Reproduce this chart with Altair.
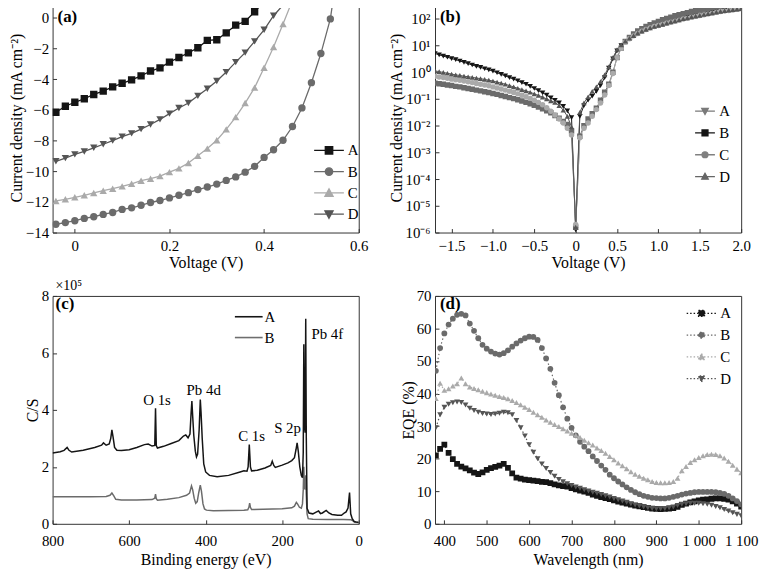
import altair as alt
import numpy as np
import pandas as pd

FONT = "Liberation Serif"
SERIES = ["A", "B", "C", "D"]
PW = 309
PH_TOP, PH_BOT = 232, 230

# ---------------- (a) J-V curves under illumination ----------------
a_volt = [-0.04, -0.02, 0.00, 0.02, 0.04, 0.06, 0.08, 0.10, 0.12, 0.14,
          0.16, 0.18, 0.20, 0.22, 0.24, 0.26, 0.28, 0.30, 0.32, 0.34,
          0.36, 0.38, 0.40, 0.42, 0.44, 0.46, 0.48, 0.50, 0.52, 0.54]
a_J_A = [-6.15, -5.76, -5.50, -5.27, -4.99, -4.77, -4.49, -4.26, -4.04, -3.78,
         -3.46, -3.25, -2.88, -2.58, -2.28, -1.94, -1.46, -1.42, -0.97, -0.47,
         -0.22, 0.41]
a_J_B = [-13.46, -13.35, -13.23, -13.08, -12.97, -12.82, -12.69, -12.49, -12.39, -12.22,
         -12.04, -11.91, -11.74, -11.57, -11.40, -11.20, -11.03, -10.84, -10.60, -10.37,
         -10.06, -9.68, -9.10, -8.60, -7.98, -7.08, -5.87, -4.22, -2.32, -0.06]
a_J_C = [-11.94, -11.83, -11.70, -11.57, -11.42, -11.27, -11.14, -10.99, -10.82, -10.62,
         -10.49, -10.32, -10.06, -9.81, -9.46, -8.99, -8.52, -7.98, -7.27, -6.47,
         -5.55, -4.54, -3.25, -1.89, -0.39]
a_J_D = [-9.35, -9.14, -8.90, -8.71, -8.47, -8.24, -8.00, -7.74, -7.53, -7.25,
         -6.95, -6.62, -6.24, -5.87, -5.55, -5.08, -4.62, -4.11, -3.53, -2.88,
         -2.26, -1.53, -0.77, 0.15, 0.84]
a_exit_volt = [0.398, 0.545, 0.458, 0.445]   # where each curve leaves the top edge
a_exit_J = [1.0, 1.0, 1.0, 1.0]
a_colors = ["#151515", "#6b6b6b", "#aaaaaa", "#555555"]

# ---------------- (b) J-V on log scale ----------------
b_volt = [round(v, 2) for v in np.arange(-1.70, 2.0001, 0.05)]
b_logJ_A = [0.70, 0.65, 0.60, 0.56, 0.51, 0.47, 0.42, 0.37, 0.32, 0.27, 0.22, 0.18, 0.13, 0.09, 0.04,
            -0.02, -0.08, -0.14, -0.20, -0.26, -0.32, -0.39, -0.45, -0.53, -0.61, -0.69, -0.77, -0.86, -0.96, -1.05,
            -1.15, -1.28, -1.45, -1.70, -5.90, -1.65, -1.25, -1.05, -0.90, -0.72, -0.50, -0.20, 0.15, 0.50, 0.80,
            1.00, 1.15, 1.27, 1.38, 1.47, 1.55, 1.61, 1.67, 1.72, 1.76, 1.80, 1.85, 1.89, 1.93, 1.97,
            2.01, 2.05, 2.08, 2.12, 2.15, 2.18, 2.21, 2.24, 2.27, 2.30, 2.32, 2.34, 2.36, 2.38, 2.40]
b_logJ_B = [-0.41, -0.43, -0.45, -0.48, -0.50, -0.53, -0.55, -0.58, -0.61, -0.64, -0.67, -0.70, -0.73, -0.76, -0.80,
            -0.83, -0.87, -0.91, -0.95, -0.99, -1.03, -1.08, -1.13, -1.18, -1.24, -1.30, -1.37, -1.44, -1.52, -1.62,
            -1.72, -1.84, -1.96, -2.20, -5.80, -2.40, -2.00, -1.75, -1.55, -1.35, -1.05, -0.75, -0.45, 0.00, 0.55,
            0.90, 1.15, 1.30, 1.43, 1.54, 1.63, 1.71, 1.78, 1.84, 1.90, 1.96, 2.01, 2.06, 2.11, 2.15,
            2.19, 2.23, 2.27, 2.30, 2.33, 2.36, 2.39, 2.42, 2.45, 2.48, 2.50, 2.52, 2.54, 2.56, 2.58]
b_logJ_C = [-0.15, -0.18, -0.20, -0.23, -0.26, -0.28, -0.30, -0.33, -0.36, -0.39, -0.42, -0.45, -0.48, -0.51, -0.55,
            -0.59, -0.63, -0.67, -0.71, -0.76, -0.81, -0.86, -0.92, -0.98, -1.05, -1.13, -1.22, -1.33, -1.46, -1.60,
            -1.75, -1.90, -2.10, -2.35, -5.70, -2.45, -2.10, -1.90, -1.65, -1.40, -1.15, -0.85, -0.50, -0.05, 0.55,
            0.90, 1.12, 1.25, 1.36, 1.45, 1.53, 1.60, 1.66, 1.71, 1.75, 1.79, 1.83, 1.87, 1.91, 1.95,
            1.99, 2.02, 2.06, 2.09, 2.12, 2.15, 2.18, 2.21, 2.24, 2.27, 2.29, 2.31, 2.33, 2.35, 2.37]
b_logJ_D = [0.05, 0.02, -0.01, -0.04, -0.07, -0.10, -0.12, -0.15, -0.17, -0.19, -0.22, -0.24, -0.27, -0.30, -0.33,
            -0.37, -0.41, -0.45, -0.50, -0.55, -0.60, -0.65, -0.70, -0.75, -0.81, -0.87, -0.93, -1.00, -1.07, -1.13,
            -1.25, -1.42, -1.65, -2.05, -5.80, -1.50, -1.15, -0.92, -0.72, -0.55, -0.35, -0.10, 0.20, 0.55, 0.85,
            1.02, 1.16, 1.27, 1.37, 1.46, 1.54, 1.60, 1.66, 1.71, 1.75, 1.79, 1.84, 1.88, 1.92, 1.96,
            2.00, 2.03, 2.07, 2.10, 2.13, 2.16, 2.19, 2.22, 2.25, 2.28, 2.30, 2.32, 2.34, 2.36, 2.38]
b_colors = ["#7a7a7a", "#151515", "#808080", "#666666"]

# ---------------- (c) XPS survey ----------------
c_E_A = [800, 780, 770, 762, 757, 750, 720, 690, 672, 667,
         660, 652, 648, 645, 642, 638, 632, 620, 600, 580,
         560, 550, 540, 533, 531, 529, 526, 510, 490, 470,
         458, 452, 446, 441, 438, 436, 434, 431, 427, 424,
         421, 417, 414, 412, 409, 405, 400, 390, 370, 340,
         310, 300, 292, 289, 286, 283, 280, 265, 245, 230,
         226, 222, 218, 200, 185, 175, 168, 164, 161, 158,
         154, 150, 147, 145, 143.5, 142, 140, 138.5, 137, 135,
         130, 120, 110, 105, 100, 95, 85, 78, 70, 55,
         45, 38, 33, 28, 24, 21, 17, 12, 5, 0]
c_cps_A = [2.49, 2.53, 2.58, 2.68, 2.58, 2.52, 2.58, 2.68, 2.76, 2.84,
           2.76, 2.80, 3.00, 3.30, 3.05, 2.68, 2.58, 2.57, 2.60, 2.68,
           2.78, 2.80, 2.73, 2.75, 4.06, 2.75, 2.66, 2.72, 2.82, 2.92,
           3.08, 3.12, 3.02, 3.15, 3.90, 4.31, 3.80, 3.10, 2.55, 2.35,
           2.45, 3.30, 4.36, 3.90, 3.00, 2.10, 1.82, 1.70, 1.65, 1.70,
           1.82, 1.86, 1.85, 2.00, 2.78, 2.00, 1.86, 1.88, 1.96, 2.05,
           2.20, 2.05, 1.98, 2.06, 2.14, 2.22, 2.32, 2.60, 2.84, 2.55,
           2.00, 1.70, 1.62, 2.50, 6.30, 3.50, 3.20, 7.20, 3.00, 0.55,
           0.38, 0.35, 0.42, 0.45, 0.36, 0.38, 0.47, 0.38, 0.33, 0.30,
           0.30, 0.38, 0.42, 0.55, 1.10, 0.35, 0.18, 0.08, 0.06, 0.05]
c_E_B = [800, 700, 660, 650, 645, 640, 635, 620, 580, 540,
         533, 531, 529, 526, 500, 470, 450, 442, 437, 434,
         430, 426, 422, 418, 414, 411, 407, 403, 398, 380,
         340, 300, 290, 287, 285, 283, 280, 250, 200, 175,
         168, 163, 160, 155, 150, 147, 145, 143.5, 142, 140,
         138.5, 137, 135, 132, 120, 80, 40, 20, 15, 10,
         0]
c_cps_B = [0.95, 0.95, 0.96, 1.00, 1.08, 0.98, 0.86, 0.84, 0.84, 0.85,
           0.90, 1.04, 0.88, 0.83, 0.86, 0.92, 1.00, 1.08, 1.33, 1.20,
           0.90, 0.72, 0.78, 1.10, 1.36, 1.15, 0.70, 0.52, 0.48, 0.46,
           0.47, 0.48, 0.49, 0.58, 0.73, 0.58, 0.50, 0.51, 0.53, 0.56,
           0.62, 0.75, 0.70, 0.58, 0.55, 0.70, 1.20, 2.00, 1.30, 1.20,
           1.70, 1.00, 0.35, 0.18, 0.16, 0.15, 0.15, 0.14, 0.10, 0.05,
           0.04]
c_colors = ["#151515", "#6e6e6e"]
c_peak_labels = ["O 1s", "Pb 4d", "C 1s", "S 2p", "Pb 4f"]
c_peak_E = [527, 405, 280, 186, 82]
c_peak_cps = [4.35, 4.70, 3.07, 3.36, 6.66]

# ---------------- (d) EQE ----------------
d_wl = list(range(380, 1101, 10))
d_A = [21.0, 23.0, 24.3, 21.8, 19.9, 18.4, 17.6, 17.0, 16.4, 15.7,
       15.3, 15.8, 16.6, 17.1, 17.5, 17.9, 18.4, 17.2, 15.5, 14.2,
       13.9, 13.6, 13.4, 13.3, 13.1, 12.9, 12.8, 12.5, 12.1, 11.8,
       11.6, 11.4, 11.0, 10.6, 10.2, 9.9, 9.5, 9.0, 8.6, 8.2,
       7.9, 7.6, 7.2, 6.8, 6.5, 6.2, 5.9, 5.6, 5.4, 5.1,
       4.9, 4.7, 4.6, 4.5, 4.6, 4.7, 4.8, 5.2, 5.8, 6.2,
       6.6, 6.9, 7.2, 7.4, 7.5, 7.7, 7.8, 7.8, 7.7, 7.4,
       6.9, 6.2, 5.3]
d_B = [47.0, 54.0, 58.5, 61.2, 63.0, 64.2, 64.5, 64.0, 61.5, 59.3,
       57.0, 55.0, 53.8, 52.9, 52.3, 52.0, 52.4, 53.3, 54.4, 55.4,
       56.3, 57.0, 57.5, 57.4, 56.5, 54.0, 50.8, 47.6, 43.3, 39.5,
       35.8, 32.3, 29.5, 27.2, 25.2, 23.7, 22.3, 20.7, 19.3, 17.9,
       16.6, 15.1, 14.0, 13.0, 12.1, 11.2, 10.4, 9.7, 9.1, 8.6,
       8.3, 8.0, 7.9, 7.8, 7.8, 8.0, 8.3, 8.6, 9.0, 9.3,
       9.5, 9.7, 9.8, 9.8, 9.8, 9.8, 9.7, 9.5, 9.2, 8.6,
       7.8, 7.0, 6.0]
d_C = [38.5, 43.2, 41.0, 41.5, 42.3, 43.0, 44.8, 43.0, 42.0, 41.6,
       41.2, 40.7, 40.3, 39.9, 39.5, 39.1, 38.8, 38.4, 37.9, 37.3,
       36.6, 35.8, 35.1, 34.3, 33.5, 32.7, 31.9, 31.2, 30.5, 29.9,
       29.2, 28.5, 27.8, 27.2, 26.5, 25.7, 24.9, 24.2, 23.3, 22.5,
       21.7, 20.7, 19.7, 18.7, 17.8, 16.9, 16.0, 15.2, 14.6, 14.0,
       13.5, 13.0, 12.7, 12.6, 12.6, 12.7, 13.0, 14.0, 16.3, 17.6,
       18.8, 19.7, 20.4, 20.9, 21.3, 21.4, 21.3, 20.9, 20.2, 19.2,
       18.0, 16.8, 15.7]
d_D = [29.5, 33.5, 35.8, 36.7, 37.2, 37.4, 37.3, 36.5, 35.5, 34.8,
       34.3, 33.9, 33.7, 33.6, 33.7, 34.0, 34.3, 34.1, 33.5, 31.7,
       29.5, 27.0, 24.3, 22.0, 20.0, 18.4, 17.0, 15.8, 14.6, 13.6,
       12.9, 12.3, 11.8, 11.3, 10.9, 10.5, 10.1, 9.7, 9.4, 9.0,
       8.6, 8.2, 7.8, 7.4, 7.0, 6.6, 6.2, 5.8, 5.5, 5.2,
       4.9, 4.7, 4.6, 4.6, 4.7, 4.9, 5.2, 5.6, 6.0, 6.2,
       6.3, 6.3, 6.3, 6.2, 6.0, 5.7, 5.3, 4.9, 4.4, 3.9,
       3.4, 2.9, 2.5]
d_colors = ["#151515", "#6b6b6b", "#aaaaaa", "#555555"]

STD_SHAPES_ABCD = ["square", "circle", "triangle-up", "triangle-down"]


# ---------------- legend glyph paths (line through marker) ----------------
def sq(h):
    return f"M{-h},{-h}H{h}V{h}H{-h}Z"


def ci(r):
    return f"M{-r},0A{r},{r} 0 1,0 {r},0A{r},{r} 0 1,0 {-r},0Z"


def tu(h):
    return f"M0,{-1.1*h:.3f}L{1.1*h:.3f},{0.9*h:.3f}L{-1.1*h:.3f},{0.9*h:.3f}Z"


def td(h):
    return f"M0,{1.1*h:.3f}L{1.1*h:.3f},{-0.9*h:.3f}L{-1.1*h:.3f},{-0.9*h:.3f}Z"


LINE = "M-2,0H2"


def glyphs(kinds, h):
    f = {"square": sq, "circle": ci, "triangle-up": tu, "triangle-down": td}
    return [LINE + f[k](h) for k in kinds]


# ---------------- data frames ----------------
rows = []
for s, vals, ev, ej in zip(SERIES, [a_J_A, a_J_B, a_J_C, a_J_D], a_exit_volt, a_exit_J):
    for v, j in zip(a_volt, vals):
        rows.append({"V": v, "J": j, "series": s, "marker": True})
    rows.append({"V": ev, "J": ej, "series": s, "marker": False})
df_a = pd.DataFrame(rows)

rows = []
for s, vals in zip(SERIES, [b_logJ_A, b_logJ_B, b_logJ_C, b_logJ_D]):
    for v, lj in zip(b_volt, vals):
        rows.append({"V": v, "J": float(10 ** lj), "series": s, "marker": True})
df_b = pd.DataFrame(rows)

rows = []
for s, es, cs in [("B", c_E_B, c_cps_B), ("A", c_E_A, c_cps_A)]:
    for e, c in zip(es, cs):
        rows.append({"E": e, "cps": c, "series": s})
df_c = pd.DataFrame(rows)
df_c_lab = pd.DataFrame({"E": c_peak_E, "cps": c_peak_cps, "label": c_peak_labels})

rows = []
for s, vals in zip(SERIES, [d_A, d_B, d_C, d_D]):
    for w, q in zip(d_wl, vals):
        rows.append({"WL": w, "EQE": q, "series": s, "marker": True})
df_d = pd.DataFrame(rows)


def panel_title(text, dx=5):
    return alt.TitleParams(text=text, anchor="start", frame="group", offset=-24, dx=dx,
                           fontSize=17, fontWeight="bold", font=FONT, color="black")


def marker_panel(df, x, y, colors, shapes, msize, lw, dash, paths, lsize, lx, ly, loff, lrow, ldash,
                 title, height):
    color = alt.Color("series:N", scale=alt.Scale(domain=SERIES, range=colors), legend=None)
    line_kw = {"strokeWidth": lw, "clip": True}
    if dash:
        line_kw["strokeDash"] = dash
    line = alt.Chart(df).mark_line(**line_kw).encode(x=x, y=y, color=color, detail="series:N")
    pts = alt.Chart(df).transform_filter("datum.marker").mark_point(
        filled=True, size=msize, opacity=1, clip=True
    ).encode(x=x, y=y, color=color,
             shape=alt.Shape("series:N", scale=alt.Scale(domain=SERIES, range=shapes), legend=None))
    leg_kw = dict(title=None, orient="none", legendX=lx, legendY=ly, symbolSize=lsize,
                  labelOffset=loff, rowPadding=lrow, symbolStrokeWidth=1.3)
    if ldash:
        leg_kw["symbolDash"] = ldash
    leg = alt.Legend(**leg_kw)
    legl = alt.Chart(df).transform_filter("false").mark_point(filled=True, opacity=1).encode(
        x=x, y=y,
        fill=alt.Fill("series:N", scale=alt.Scale(domain=SERIES, range=colors), legend=leg),
        stroke=alt.Stroke("series:N", scale=alt.Scale(domain=SERIES, range=colors), legend=leg),
        shape=alt.Shape("series:N", scale=alt.Scale(domain=SERIES, range=paths), legend=leg),
    )
    return alt.layer(line, pts, legl).resolve_scale(
        shape="independent", fill="independent", stroke="independent"
    ).properties(width=PW, height=height, title=title)


JTITLE = "Current density (mA cm\u207b\u00b2)"

# (a)
xa = alt.X("V:Q", scale=alt.Scale(domain=[-0.047, 0.6], nice=False, zero=False),
           axis=alt.Axis(title="Voltage (V)", values=[0, 0.2, 0.4, 0.6], format=".1~f",
                         labelPadding=6, titlePadding=1))
ya = alt.Y("J:Q", scale=alt.Scale(domain=[-14, 1], nice=False, zero=False),
           axis=alt.Axis(title=JTITLE, values=list(range(-14, 1, 2)), labelPadding=4, titlePadding=1))
pa = marker_panel(df_a, xa, ya, a_colors, STD_SHAPES_ABCD, 55, 1.3, None,
                  glyphs(STD_SHAPES_ABCD, 0.5), 225, 270.5, 140.5, 10.5, 4.5, None,
                  panel_title("(a)"), PH_TOP)

# (b)
sup = "['\u207b\u2076','\u207b\u2075','\u207b\u2074','\u207b\u00b3','\u207b\u00b2','\u207b\u00b9','\u2070','\u00b9','\u00b2']"
xb = alt.X("V:Q", scale=alt.Scale(domain=[-1.7, 2.0], nice=False, zero=False),
           axis=alt.Axis(title="Voltage (V)", values=[-1.5, -1.0, -0.5, 0, 0.5, 1.0, 1.5, 2.0],
                         labelExpr="datum.value == 0 ? '0' : format(datum.value, '.1f')",
                         labelPadding=6, titlePadding=1))
yb = alt.Y("J:Q", scale=alt.Scale(type="log", domain=[1e-6, 400], nice=False),
           axis=alt.Axis(title=JTITLE, values=[1e-6, 1e-5, 1e-4, 1e-3, 1e-2, 1e-1, 1, 10, 100],
                         labelExpr="'10' + " + sup + "[round(log(datum.value) / LN10) + 6]",
                         labelPadding=5, titlePadding=1))
b_shapes = ["triangle-down", "square", "circle", "triangle-up"]
pb = marker_panel(df_b, xb, yb, b_colors, b_shapes, 30, 1.0, None,
                  glyphs(b_shapes, 0.6), 100, 265, 102, 7, 6, None, panel_title("(b)"), PH_TOP)

# (c)
xc = alt.X("E:Q", scale=alt.Scale(domain=[0, 800], reverse=True, nice=False, zero=False),
           axis=alt.Axis(title="Binding energy (eV)", values=list(range(0, 801, 100)), format="d",
                         labelPadding=10, titlePadding=3))
yc = alt.Y("cps:Q", scale=alt.Scale(domain=[0, 8], nice=False, zero=False),
           axis=alt.Axis(title="C/S", values=list(range(0, 9)), format="d", labelPadding=4, titlePadding=1))
c_line = alt.Chart(df_c).mark_line(strokeWidth=1.5, clip=True).encode(
    x=xc, y=yc, detail="series:N",
    color=alt.Color("series:N", scale=alt.Scale(domain=["A", "B"], range=c_colors), legend=None),
    order=alt.Order("E:Q", sort="descending"))
c_text = alt.Chart(df_c_lab).mark_text(font=FONT, fontSize=15, color="black").encode(
    x=alt.X("E:Q"), y=alt.Y("cps:Q"), text="label:N")
c_leg = alt.Legend(title=None, orient="none", legendX=190, legendY=13, symbolSize=196,
                   labelOffset=8, rowPadding=5, symbolStrokeWidth=1.6)
c_legl = alt.Chart(df_c).transform_filter("false").mark_point(filled=False, opacity=1).encode(
    x=xc, y=yc,
    stroke=alt.Stroke("series:N", scale=alt.Scale(domain=["A", "B"], range=c_colors), legend=c_leg),
    shape=alt.Shape("series:N", scale=alt.Scale(domain=["A", "B"], range=[LINE, LINE]), legend=c_leg))
pc = alt.layer(c_line, c_text, c_legl).resolve_scale(
    shape="independent", stroke="independent"
).properties(
    width=PW, height=PH_BOT,
    title=alt.TitleParams(text="\u00d710\u2075", subtitle="(c)", anchor="start", frame="group",
                          offset=-23, dx=3, fontSize=14, fontWeight="normal", font=FONT, color="black",
                          subtitleFont=FONT, subtitleFontSize=17, subtitleFontWeight="bold",
                          subtitleColor="black", subtitlePadding=3))

# (d)
xd = alt.X("WL:Q", scale=alt.Scale(domain=[378, 1100], nice=False, zero=False),
           axis=alt.Axis(title="Wavelength (nm)", values=list(range(400, 1101, 100)),
                         labelExpr="datum.value >= 1000 ? '1 ' + format(datum.value - 1000, '03d') : format(datum.value, 'd')",
                         labelPadding=10, titlePadding=3))
yd = alt.Y("EQE:Q", scale=alt.Scale(domain=[0, 70], nice=False, zero=False),
           axis=alt.Axis(title="EQE (%)", values=list(range(0, 71, 10)), format="d",
                         labelPadding=4, titlePadding=0))
pd_ = marker_panel(df_d, xd, yd, d_colors, STD_SHAPES_ABCD, 34, 1.2, [1.5, 2.5],
                   glyphs(STD_SHAPES_ABCD, 0.4), 225, 260.5, 9, 10.5, 5, [1.5, 2],
                   panel_title("(d)"), PH_BOT)

chart = alt.concat(pa, pb, pc, pd_, columns=2).properties(
    spacing={"row": 64, "column": 77}, bounds="flush",
    padding={"left": 0, "top": -9, "right": 0, "bottom": 0}, background="white"
).configure_view(stroke="#333333", strokeWidth=1).configure_axis(
    labelFont=FONT, labelFontSize=15, labelColor="black",
    titleFont=FONT, titleFontSize=16, titleFontWeight="normal", titleColor="black",
    grid=False, domain=False, tickSize=4, offset=-4, tickColor="#333333", labelFlush=False,
).configure_legend(
    labelFont=FONT, labelFontSize=15, labelColor="black", padding=0
).configure_title(font=FONT, color="black")

chart.save("out.html", embed_options={"renderer": "svg", "actions": False})
